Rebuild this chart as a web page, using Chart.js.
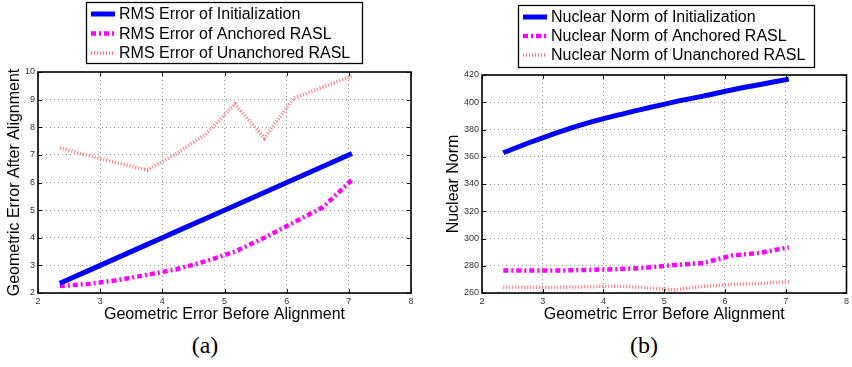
<!DOCTYPE html>
<html>
<head>
<meta charset="utf-8">
<script src="https://cdn.jsdelivr.net/npm/chart.js@4.4.1/dist/chart.umd.min.js"></script>
<style>
  body { margin: 0; background: #fff; }
  #wrap { position: relative; width: 852px; height: 367px; overflow: hidden; background: #fff; }
  .pane { position: absolute; top: 0; width: 426px; height: 330px; }
  .cap { position: absolute; top: 332px; width: 60px; text-align: center; font: 24px "Liberation Serif", serif; color: #000; }
</style>
</head>
<body>
<div id="wrap">
  <div class="pane" style="left:0"><canvas id="chartA" width="426" height="330"></canvas></div>
  <div class="pane" style="left:426px"><canvas id="chartB" width="426" height="330"></canvas></div>
  <div class="cap" style="left:175px">(a)</div>
  <div class="cap" style="left:614px">(b)</div>
</div>
<script>
// geometric error before alignment (x axis, both panels)
var errBefore = [2.35, 2.82, 3.29, 3.76, 4.23, 4.70, 5.17, 5.64, 6.11, 6.58, 7.05];

// (a) RMS error after alignment
var rmsInit       = [2.35, 2.82, 3.29, 3.76, 4.23, 4.70, 5.17, 5.64, 6.11, 6.58, 7.05];
var rmsAnchored   = [2.25, 2.33, 2.47, 2.66, 2.86, 3.15, 3.50, 4.00, 4.55, 5.10, 6.10];
var rmsUnanchored = [7.25, 6.97, 6.70, 6.45, 7.05, 7.75, 8.85, 7.60, 9.05, 9.45, 9.85];

// (b) nuclear norm
var nnInit       = [363, 371, 378.5, 385, 390.5, 395.5, 400.3, 404.5, 409, 413, 417];
var nnAnchored   = [276.5, 276.5, 276.5, 277, 277.5, 278.5, 280.5, 282, 287.5, 289.5, 293.5];
var nnUnanchored = [264.3, 264.2, 264.2, 264.6, 265, 264, 262.3, 265, 266.3, 267, 268.3];

var labelsA = ['RMS Error of Initialization', 'RMS Error of Anchored RASL', 'RMS Error of Unanchored RASL'];
var labelsB = ['Nuclear Norm of Initialization', 'Nuclear Norm of Anchored RASL', 'Nuclear Norm of Unanchored RASL'];

var xTitle = 'Geometric Error Before Alignment';
var yTitleA = 'Geometric Error After Alignment';
var yTitleB = 'Nuclear Norm';

var FONT = '"Liberation Sans", Arial, sans-serif';

function pts(ys) {
  return errBefore.map(function (x, i) { return { x: x, y: ys[i] }; });
}

function makeSets(labels, a, b, c) {
  return [
    { label: labels[0], data: pts(a), borderColor: '#0000ff', borderWidth: 5, borderCapStyle: 'butt', cubicInterpolationMode: 'monotone' },
    { label: labels[1], data: pts(b), borderColor: '#ff00ff', borderWidth: 4.5, borderDash: [5, 3, 2, 3], borderCapStyle: 'butt' },
    { label: labels[2], data: pts(c), borderColor: '#ff7373', borderWidth: 3.5, borderDash: [1, 2], borderCapStyle: 'butt' }
  ];
}

// matlab style box with inward ticks
var boxPlugin = {
  id: 'boxPlugin',
  afterDatasetsDraw: function (chart) {
    var ctx = chart.ctx, a = chart.chartArea;
    var sx = chart.scales.x, sy = chart.scales.y;
    ctx.save();
    ctx.strokeStyle = '#000';
    ctx.lineWidth = 1;
    sx.ticks.forEach(function (t) {
      var p = Math.round(sx.getPixelForValue(t.value)) + 0.5;
      ctx.beginPath();
      ctx.moveTo(p, a.bottom); ctx.lineTo(p, a.bottom - 4);
      ctx.moveTo(p, a.top); ctx.lineTo(p, a.top + 4);
      ctx.stroke();
    });
    sy.ticks.forEach(function (t) {
      var p = Math.round(sy.getPixelForValue(t.value)) + 0.5;
      ctx.beginPath();
      ctx.moveTo(a.left, p); ctx.lineTo(a.left + 4, p);
      ctx.moveTo(a.right, p); ctx.lineTo(a.right - 4, p);
      ctx.stroke();
    });
    ctx.lineWidth = 1.6;
    ctx.strokeRect(a.left, a.top, a.right - a.left, a.bottom - a.top);
    ctx.restore();
  }
};

// legend inside a framed box
var legendBox = {
  id: 'legendBox',
  afterDraw: function (chart, args, opts) {
    var ctx = chart.ctx;
    ctx.save();
    ctx.fillStyle = '#fff';
    ctx.fillRect(opts.x, opts.y, opts.w, opts.h);
    ctx.strokeStyle = '#000';
    ctx.lineWidth = 1.3;
    ctx.strokeRect(opts.x + 0.5, opts.y + 0.5, opts.w, opts.h);
    chart.data.datasets.forEach(function (ds, i) {
      var cy = opts.y + opts.row0 + i * opts.rowH;
      ctx.beginPath();
      ctx.strokeStyle = ds.borderColor;
      ctx.lineWidth = ds.borderWidth;
      ctx.lineCap = 'butt';
      ctx.setLineDash(ds.borderDash || []);
      ctx.moveTo(opts.x + 5, cy);
      ctx.lineTo(opts.x + 29, cy);
      ctx.stroke();
      ctx.setLineDash([]);
      ctx.fillStyle = '#000';
      ctx.font = '16px ' + FONT;
      ctx.textBaseline = 'middle';
      ctx.textAlign = 'left';
      ctx.fillText(ds.label, opts.x + 33, cy + 1);
    });
    ctx.restore();
  }
};

function makeChart(id, sets, yMin, yMax, yStep, yTitle, pad, yWidth, yTitlePad, legendPos) {
  return new Chart(document.getElementById(id), {
    type: 'line',
    data: { datasets: sets },
    plugins: [boxPlugin, legendBox],
    options: {
      responsive: false,
      animation: false,
      devicePixelRatio: 1,
      layout: { padding: pad },
      elements: { point: { radius: 0 }, line: { tension: 0 } },
      plugins: {
        legend: { display: false },
        tooltip: { enabled: false },
        legendBox: legendPos
      },
      scales: {
        x: {
          type: 'linear', min: 2, max: 8,
          ticks: { stepSize: 1, font: { size: 9, family: FONT }, color: '#333', padding: 3, maxRotation: 0 },
          grid: { color: '#9a9a9a', lineWidth: 1, drawTicks: false },
          border: { display: false, dash: [1, 3] },
          title: { display: true, text: xTitle, color: '#000', font: { size: 16, family: FONT }, padding: { top: 0, bottom: 6 } },
          afterFit: function (s) { s.height = 37; }
        },
        y: {
          type: 'linear', min: yMin, max: yMax,
          ticks: { stepSize: yStep, font: { size: 9, family: FONT }, color: '#333', padding: 3 },
          grid: { color: '#9a9a9a', lineWidth: 1, drawTicks: false },
          border: { display: false, dash: [1, 3] },
          title: { display: true, text: yTitle, color: '#000', font: { size: 16, family: FONT }, padding: { top: yTitlePad, bottom: 0 } },
          afterFit: function (s) { s.width = yWidth; }
        }
      }
    }
  });
}

makeChart('chartA', makeSets(labelsA, rmsInit, rmsAnchored, rmsUnanchored),
  2, 10, 1, yTitleA, { top: 72, right: 15, left: 0, bottom: 0 }, 38, 5,
  { x: 86, y: 2, w: 276, h: 61, row0: 12, rowH: 19.5 });

makeChart('chartB', makeSets(labelsB, nnInit, nnAnchored, nnUnanchored),
  260, 420, 20, yTitleB, { top: 75, right: 3, left: 0, bottom: 0 }, 56, 18,
  { x: 92, y: 5, w: 296, h: 62, row0: 12, rowH: 19 });
</script>
</body>
</html>
